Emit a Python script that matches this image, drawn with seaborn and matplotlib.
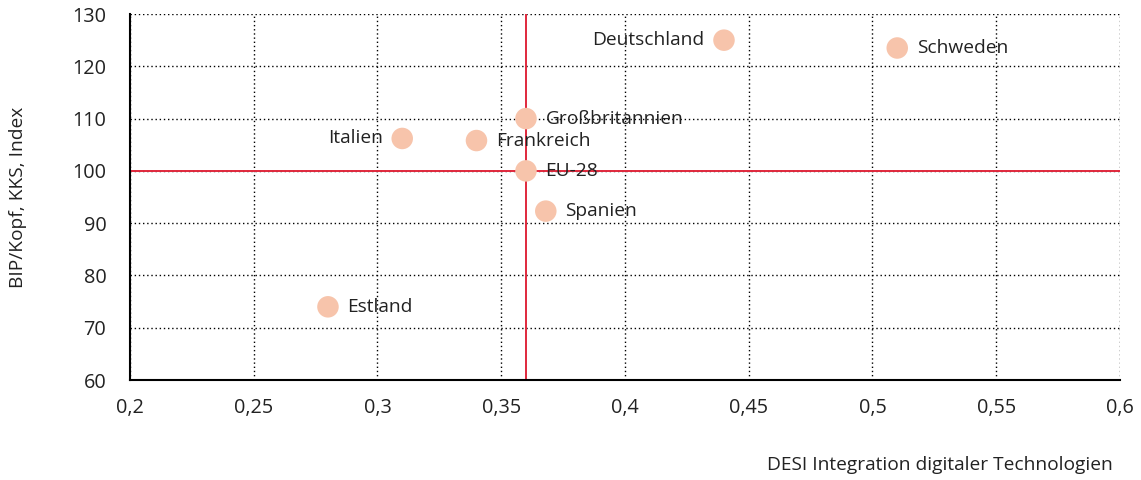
import matplotlib
matplotlib.use("Agg")
import matplotlib.pyplot as plt
import seaborn as sns
import pandas as pd

countries = ["Deutschland", "Schweden", "Großbritannien", "Frankreich", "Italien", "EU-28", "Spanien", "Estland"]
desi = [0.44, 0.51, 0.36, 0.34, 0.31, 0.36, 0.368, 0.28]
gdp = [125.0, 123.5, 110.0, 105.8, 106.2, 100.0, 92.3, 74.0]
label_side = ["left", "right", "right", "right", "left", "right", "right", "right"]
x_ticks = [0.2, 0.25, 0.3, 0.35, 0.4, 0.45, 0.5, 0.55, 0.6]
x_tick_labels = ["0,2", "0,25", "0,3", "0,35", "0,4", "0,45", "0,5", "0,55", "0,6"]
y_ticks = [60, 70, 80, 90, 100, 110, 120, 130]
ref_x = 0.36
ref_y = 100

sns.set_theme(style="white")
plt.rcParams['font.family'] = ['Open Sans', 'DejaVu Sans']

df = pd.DataFrame({"land": countries, "desi": desi, "gdp": gdp})

fig = plt.figure(figsize=(11.41, 4.80), dpi=100)
ax = fig.add_axes([0.1139, 0.2083, 0.8677, 0.7625])

ax.set_xlim(0.2, 0.6)
ax.set_ylim(60, 130)
ax.set_xticks(x_ticks)
ax.set_xticklabels(x_tick_labels)
ax.set_yticks(y_ticks)
ax.grid(True, linestyle=(0, (1, 2)), color="black", linewidth=1.0)
ax.set_axisbelow(True)

ax.axvline(ref_x, color="#e0283c", linewidth=1.4, zorder=2)
ax.axhline(ref_y, color="#e0283c", linewidth=1.4, zorder=2)

sns.scatterplot(data=df, x="desi", y="gdp", ax=ax, s=240, color="#f7c4ab",
                edgecolor="none", zorder=3, legend=False)

fs = 13.8
for name, xv, yv, side in zip(countries, desi, gdp, label_side):
    if side == "right":
        ax.annotate(name, (xv, yv), xytext=(14, 0), textcoords="offset points",
                    ha="left", va="center", fontsize=fs, color="#222222", zorder=4)
    else:
        ax.annotate(name, (xv, yv), xytext=(-14, 0), textcoords="offset points",
                    ha="right", va="center", fontsize=fs, color="#222222", zorder=4)

for s in ["top", "right"]:
    ax.spines[s].set_visible(False)
for s in ["left", "bottom"]:
    ax.spines[s].set_color("black")
    ax.spines[s].set_linewidth(1.5)

ax.tick_params(axis="y", length=0, labelsize=14.3, colors="#222222", pad=17)
ax.tick_params(axis="x", length=0, labelsize=14.3, colors="#222222", pad=13)
ax.set_xlabel("")
ax.set_ylabel("BIP/Kopf, KKS, Index", fontsize=fs, color="#222222")
ax.yaxis.set_label_coords(-0.104, 0.5)
fig.text(0.9755, 0.031, "DESI Integration digitaler Technologien", ha="right",
         va="center", fontsize=fs, color="#222222")

fig.savefig("out.png", dpi=100)
